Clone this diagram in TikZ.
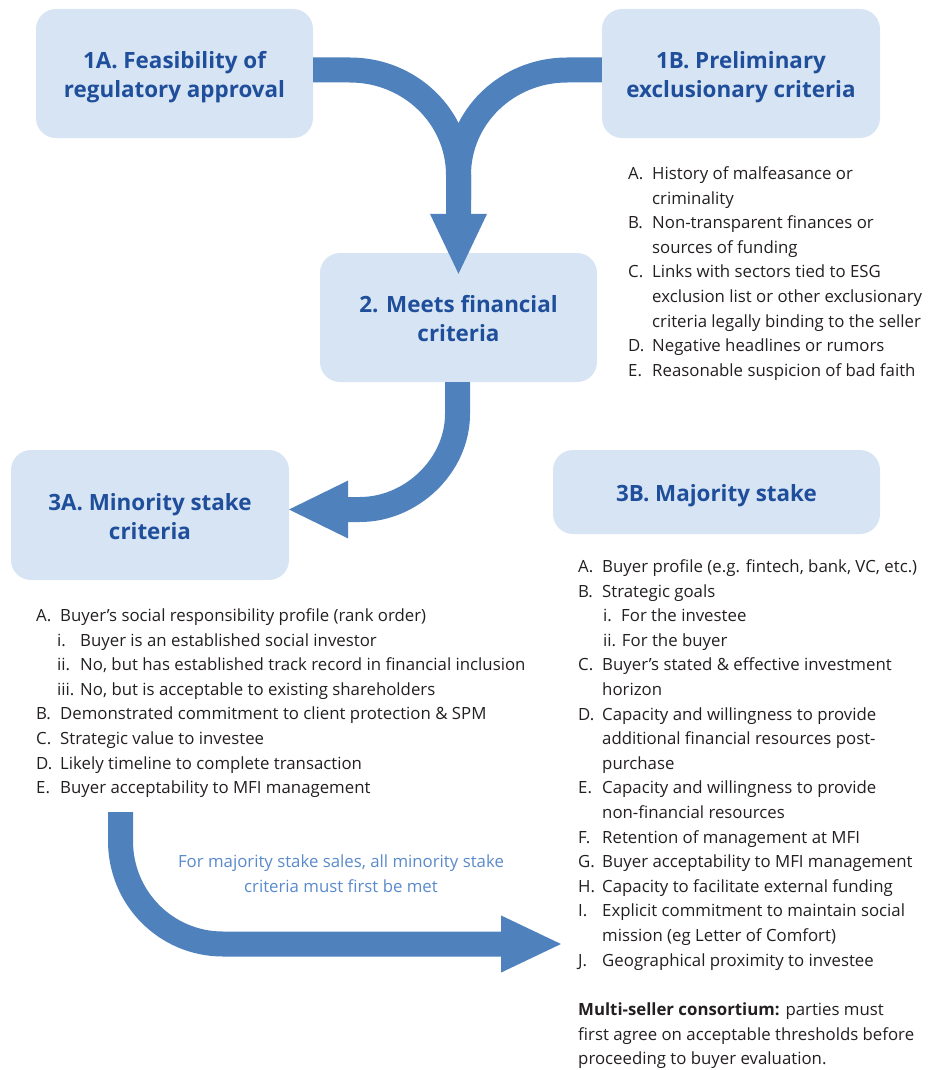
\documentclass[tikz,border=0pt]{standalone}
\usepackage{fontspec}
\setmainfont{Open Sans}
\usetikzlibrary{arrows.meta}
\definecolor{boxfill}{HTML}{D7E4F4}
\definecolor{headblue}{HTML}{1F4E9B}
\definecolor{arrowblue}{HTML}{4F81BD}
\definecolor{lblblue}{HTML}{5A8ACB}
\definecolor{txt}{HTML}{231F20}
\newcommand\itm[2]{\makebox[24pt][l]{#1}#2}
\newcommand\cont[1]{\hspace*{24pt}#1}
\newcommand\sitm[4]{\hspace*{#1}\makebox[#2][l]{#3}#4}
\newcommand\hstrut{\rule{0pt}{24.5pt}}
\begin{document}
\begin{tikzpicture}[x=1pt,y=-1pt,
  stagebox/.style={fill=boxfill, rounded corners=20pt, inner sep=0pt, text=headblue,
    font=\bfseries\fontsize{22.4}{29}\selectfont, align=center},
  flow/.style={draw=arrowblue, line width=25pt},
  headA/.style={-{Triangle[length=62pt,width=52pt]}},
  headB/.style={-{Triangle[length=61pt,width=53pt]}},
  listtext/.style={inner sep=0pt, anchor=base west, align=left, text=txt,
    font=\fontsize{16.8}{24.6}\selectfont}]
\useasboundingbox (0,0) rectangle (927,1070);

% stage boxes
\node[stagebox, minimum width=277pt, minimum height=129pt] (b1a) at (174.5,73.5)
  {\hstrut 1A. Feasibility of\\regulatory approval};
\node[stagebox, minimum width=278pt, minimum height=129pt] (b1b) at (741,73.5)
  {\hstrut 1B. Preliminary\\exclusionary criteria};
\node[stagebox, minimum width=277pt, minimum height=129pt] (b2) at (458.5,317.5)
  {\rule{0pt}{19pt}2. Meets financial\\criteria};
\node[stagebox, minimum width=278pt, minimum height=130pt] (b3a) at (150,515)
  {\rule{0pt}{20pt}3A. Minority stake\\criteria};
\node[stagebox, minimum width=327pt, minimum height=84pt] (b3b) at (716.5,492)
  {\hstrut 3B. Majority stake};

% merging arrow 1A/1B -> 2
\coordinate (m) at (458.5,175);
\draw[flow] ([yshift=3.5pt]b1b.west) -- (567,70) .. controls (507,70) and (458.5,117) .. (m) -- (458.5,200);
\draw[flow,headA] ([yshift=3.5pt]b1a.east) -- (350,70) .. controls (410,70) and (458.5,117) .. (m)
  -- ([yshift=-23pt]b2.north);

% arrow 2 -> 3A
\draw[flow,headB] ([xshift=-1pt]b2.south) -- (457.5,414) .. controls (457.5,466) and (411,509.5) .. (360,509.5)
  -- ([yshift=5.5pt,xshift=-2pt]b3a.east);

% arrow 3A criteria -> 3B criteria
\coordinate (s) at (120.5,812);
\coordinate (e) at (563,944);
\draw[flow,headA] (s) -- (120.5,841) .. controls (120.5,898) and (166,944) .. (223,944) -- (e);

\node[inner sep=0pt, anchor=base, align=center, text=lblblue,
  font=\fontsize{16.8}{24.6}\selectfont] (lbl) at (341,892.1)
  {For majority stake sales, all minority stake\\criteria must first be met};

% 1B list (anchor = baseline of last line)
\node[listtext] (l1b) at (628,376.3) {%
\itm{A.}{History of malfeasance or}\\
\cont{criminality}\\
\itm{B.}{Non-transparent finances or}\\
\cont{sources of funding}\\
\itm{C.}{Links with sectors tied to ESG}\\
\cont{exclusion list or other exclusionary}\\
\cont{criteria legally binding to the seller}\\
\itm{D.}{Negative headlines or rumors}\\
\itm{E.}{Reasonable suspicion of bad faith}};

% 3A list
\node[listtext] (l3a) at (36,793.7) {%
\itm{A.}{Buyer’s social responsibility profile (rank order)}\\
\sitm{21pt}{23pt}{i.}{Buyer is an established social investor}\\
\sitm{21pt}{23pt}{ii.}{No, but has established track record in financial inclusion}\\
\hspace*{21pt}iii. No, but is acceptable to existing shareholders\\
\itm{B.}{Demonstrated commitment to client protection \& SPM}\\
\itm{C.}{Strategic value to investee}\\
\itm{D.}{Likely timeline to complete transaction}\\
\itm{E.}{Buyer acceptability to MFI management}};

% 3B list
\node[listtext] (l3b) at (578,966.1) {%
\itm{A.}{Buyer profile (e.g. fintech, bank, VC, etc.)}\\
\itm{B.}{Strategic goals}\\
\sitm{25pt}{18pt}{i.}{For the investee}\\
\hspace*{25pt}ii. For the buyer\\
\itm{C.}{Buyer’s stated \& effective investment}\\
\cont{horizon}\\
\itm{D.}{Capacity and willingness to provide}\\
\cont{additional financial resources post-}\\
\cont{purchase}\\
\itm{E.}{Capacity and willingness to provide}\\
\cont{non-financial resources}\\
\itm{F.}{Retention of management at MFI}\\
\itm{G.}{Buyer acceptability to MFI management}\\
\itm{H.}{Capacity to facilitate external funding}\\
\itm{I.}{Explicit commitment to maintain social}\\
\cont{mission (eg Letter of Comfort)}\\
\itm{J.}{Geographical proximity to investee}};

\node[listtext] (note) at (578,1064.7) {%
\textbf{Multi-seller consortium:} parties must\\
first agree on acceptable thresholds before\\
proceeding to buyer evaluation.};
\end{tikzpicture}
\end{document}
